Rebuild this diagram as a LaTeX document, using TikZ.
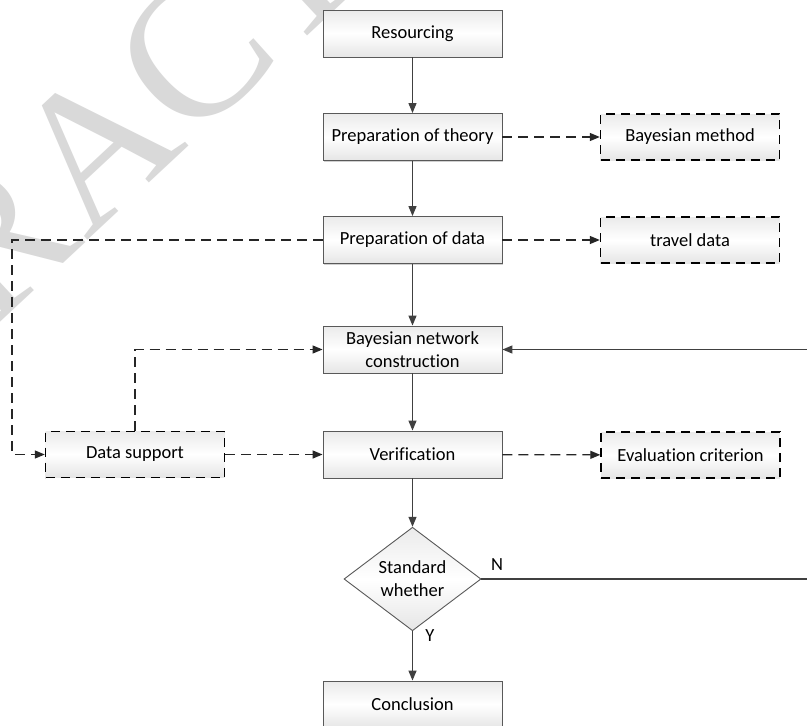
\documentclass[tikz,border=0pt]{standalone}
\usepackage{fontspec}
\setmainfont{Carlito}[Ligatures=NoCommon]
\newfontfamily\wmfont{Liberation Serif}
\usetikzlibrary{shapes.geometric,arrows.meta,shadows}

\definecolor{linegray}{HTML}{404040}
\definecolor{framegray}{HTML}{595959}

\tikzset{
  boxfont/.style={font=\fontsize{18.5}{23}\selectfont},
  boxfill/.style={top color=black!8, bottom color=black!10, middle color=white},
  procbox/.style={rectangle, draw=framegray, line width=0.9pt, boxfill,
    minimum width=179pt, minimum height=47pt, inner sep=0pt,
    align=center, boxfont,
    drop shadow={shadow xshift=1.2pt, shadow yshift=-1.2pt, fill=black!30, opacity=0.6}},
  dashbox/.style={rectangle, draw=black, line width=1.4pt, dash pattern=on 9pt off 6pt,
    boxfill, minimum width=179pt, minimum height=46pt, inner sep=0pt,
    align=center, boxfont},
  decision/.style={diamond, draw=framegray, line width=0.9pt, boxfill,
    minimum width=137pt, minimum height=86pt, inner sep=0pt,
    align=center, boxfont},
  flow/.style={draw=linegray, line width=1.3pt, -{Triangle[length=10pt,width=8pt]}},
  dashflow/.style={draw=black!85, line width=1.3pt, dash pattern=on 10pt off 6pt,
    -{Triangle[length=10pt,width=8pt]}},
  tag/.style={boxfont, inner sep=0pt},
}

\begin{document}
\begin{tikzpicture}[x=1pt, y=-1pt]
  \useasboundingbox (0,0) rectangle (807,726);
  \clip (0,0) rectangle (807,726);
  \fill[white] (0,0) rectangle (807,726);

  % faint background lettering
  \node[text=black!15, rotate=43, inner sep=0pt] (wm) at (138,106)
    {\wmfont\fontsize{196}{196}\selectfont RACT};

  % main chain
  \node[procbox] (res) at (412.5,33.5) {Resourcing};
  \node[procbox] (theory) at (412.5,137) {Preparation of theory};
  \node[procbox] (data) at (412.5,240) {Preparation of data};
  \node[procbox] (bnc) at (412.5,349.5) {Bayesian network\\construction};
  \node[procbox] (ver) at (412.5,454.5) {Verification};
  \node[decision] (std) at (412.5,579) {Standard\\whether};
  \node[procbox] (con) at (412.5,704.5) {Conclusion};

  % side boxes
  \node[dashbox] (bm) at (690,137) {Bayesian method};
  \node[dashbox] (td) at (690,240) {travel data};
  \node[dashbox] (ec) at (690.5,455) {Evaluation criterion};
  \node[dashbox] (ds) at (135,454.5) {Data support};

  % solid connectors
  \draw[flow] (res) -- (theory);
  \draw[flow] (theory) -- (data);
  \draw[flow] (data) -- (bnc);
  \draw[flow] (bnc) -- (ver);
  \draw[flow] (ver) -- (std);
  \draw[flow] (std) -- (con);

  % failure loop back to construction
  \coordinate (loopdown) at (808,579);
  \draw[flow] (std.east) -- (loopdown) |- (bnc.east);

  % dashed connectors
  \draw[dashflow] (theory) -- (bm);
  \draw[dashflow] (data) -- (td);
  \draw[dashflow] (ver) -- (ec);
  \draw[dashflow] (ds) -- (ver);
  \coordinate (leftrun) at (12,240);
  \draw[dashflow] (data.west) -- (leftrun) |- (ds.west);
  \draw[dashflow] (ds.north) |- (bnc.west);

  % branch labels
  \node[tag] (nlab) at (497,565) {N};
  \node[tag] (ylab) at (430,636) {Y};
\end{tikzpicture}
\end{document}
